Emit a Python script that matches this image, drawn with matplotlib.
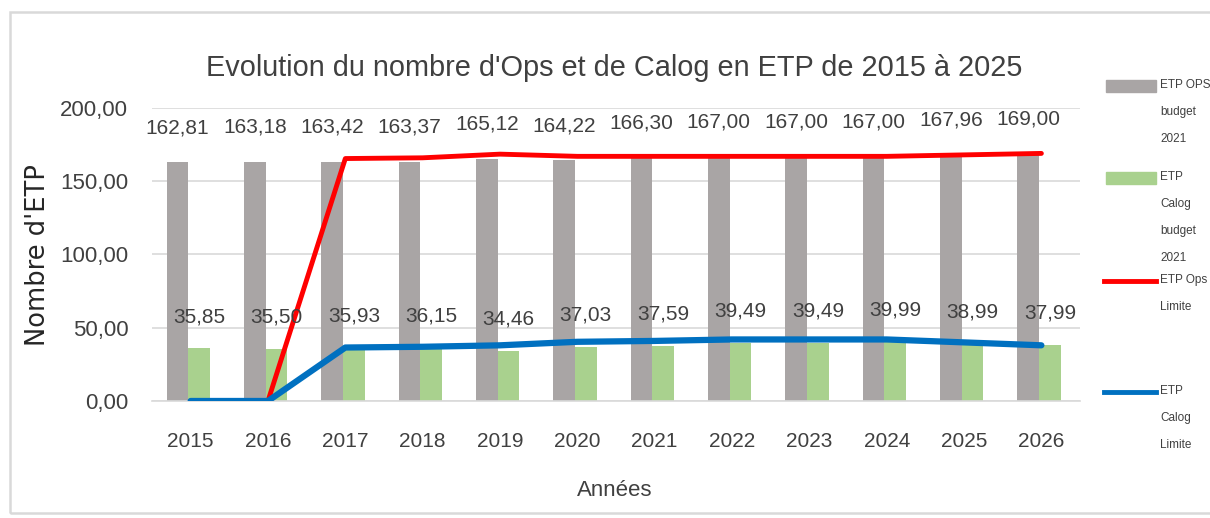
import matplotlib
matplotlib.use("Agg")
import numpy as np
import matplotlib.pyplot as plt
from matplotlib.patches import Rectangle
from matplotlib.lines import Line2D

# -----------------------------------
# DONNEES
# -----------------------------------

annees = ["2015", "2016", "2017", "2018", "2019", "2020",
          "2021", "2022", "2023", "2024", "2025", "2026"]

ops_budget = [162.81, 163.18, 163.42, 163.37, 165.12, 164.22,
              166.30, 167.00, 167.00, 167.00, 167.96, 169.00]
calog_budget = [35.85, 35.50, 35.93, 36.15, 34.46, 37.03,
                37.59, 39.49, 39.49, 39.99, 38.99, 37.99]
ops_limite = [0, 0, 165.5, 166, 168.5, 167, 167, 167, 167, 167, 168, 169]
calog_limite = [0, 0, 36.5, 37, 38, 40.4, 41, 42, 42, 42, 40, 38]

legende = ["ETP OPS\nbudget\n2021", "ETP\nCalog\nbudget\n2021",
           "ETP Ops\nLimite", "ETP\nCalog\nLimite"]

GRIS = "#A9A5A5"
VERT = "#A9D18E"
ROUGE = "#FF0000"
BLEU = "#0070C0"
TEXTE = "#404040"

plt.rcParams['font.family'] = ['Liberation Sans', 'DejaVu Sans']

# -----------------------------------
# FIGURE
# -----------------------------------

fig = plt.figure(figsize=(12.1, 5.18), dpi=100)
ax = fig.add_axes([0.1256, 0.2259, 0.767, 0.5656])

# cadre du graphique
fig.patches.append(Rectangle((10 / 1210, 5 / 518), 1.0, 501 / 518, transform=fig.transFigure,
                             fill=False, edgecolor="#D9D9D9", linewidth=1.8))

x = np.arange(len(annees))
w = 0.28

b1 = ax.bar(x - 0.17, ops_budget, w, color=GRIS, zorder=2)
b2 = ax.bar(x + 0.11, calog_budget, w, color=VERT, zorder=2)
ax.plot(x, ops_limite, color=ROUGE, linewidth=3.5, zorder=3, solid_capstyle='round')
ax.plot(x, calog_limite, color=BLEU, linewidth=4.5, zorder=3, solid_capstyle='round')

for rect, v in zip(b1, ops_budget):
    ax.annotate(f"{v:.2f}".replace(".", ","),
                (rect.get_x() + rect.get_width() / 2, v),
                xytext=(0, 25), textcoords="offset points",
                ha="center", va="center", fontsize=15, color=TEXTE, zorder=4)
for rect, v in zip(b2, calog_budget):
    ax.annotate(f"{v:.2f}".replace(".", ","),
                (rect.get_x() + rect.get_width() / 2, v),
                xytext=(0, 23), textcoords="offset points",
                ha="center", va="center", fontsize=15, color=TEXTE, zorder=4)

ax.set_xlim(-0.5, len(annees) - 0.5)
ax.set_ylim(0, 200)
ax.set_yticks([0, 50, 100, 150, 200])
ax.set_yticklabels(["0,00", "50,00", "100,00", "150,00", "200,00"])
ax.set_xticks(x)
ax.set_xticklabels(annees)
ax.tick_params(axis="both", length=0, labelsize=15, labelcolor=TEXTE)
ax.tick_params(axis="x", pad=22)
ax.tick_params(axis="y", labelsize=16, pad=17)

ax.grid(axis="y", color="#D9D9D9", linewidth=1.2, zorder=0)
for s in ["top", "right", "left"]:
    ax.spines[s].set_visible(False)
ax.spines["bottom"].set_color("#D9D9D9")
ax.spines["bottom"].set_linewidth(1.2)

fig.text(0.508, 0.869, "Evolution du nombre d'Ops et de Calog en ETP de 2015 à 2025",
         ha="center", va="center", fontsize=20.8, color=TEXTE)
fig.text(0.508, 0.054, "Années", ha="center", va="center", fontsize=16, color=TEXTE)
fig.text(0.031, 0.508, "Nombre d'ETP", ha="center", va="center", rotation=90,
         fontsize=18.5, color="#262626", family=["DejaVu Sans"])

# -----------------------------------
# LEGENDE
# -----------------------------------

ypos = [86, 178, 281, 392]
handles = [("bar", GRIS), ("bar", VERT), ("line", ROUGE), ("line", BLEU)]
for (kind, col), lab, yp in zip(handles, legende, ypos):
    yf = 1 - yp / 518
    if kind == "bar":
        fig.patches.append(Rectangle((1106 / 1210, yf - 6 / 518), 50 / 1210, 12 / 518,
                                     transform=fig.transFigure, color=col))
    else:
        fig.lines.append(Line2D([1104 / 1210, 1156 / 1210], [yf, yf],
                                transform=fig.transFigure, color=col, linewidth=3.5))
    fig.text(1160 / 1210, yf + 7 / 518, lab, ha="left", va="top", fontsize=8.5,
             color=TEXTE, linespacing=2.65)

fig.savefig("out.png", dpi=100)
